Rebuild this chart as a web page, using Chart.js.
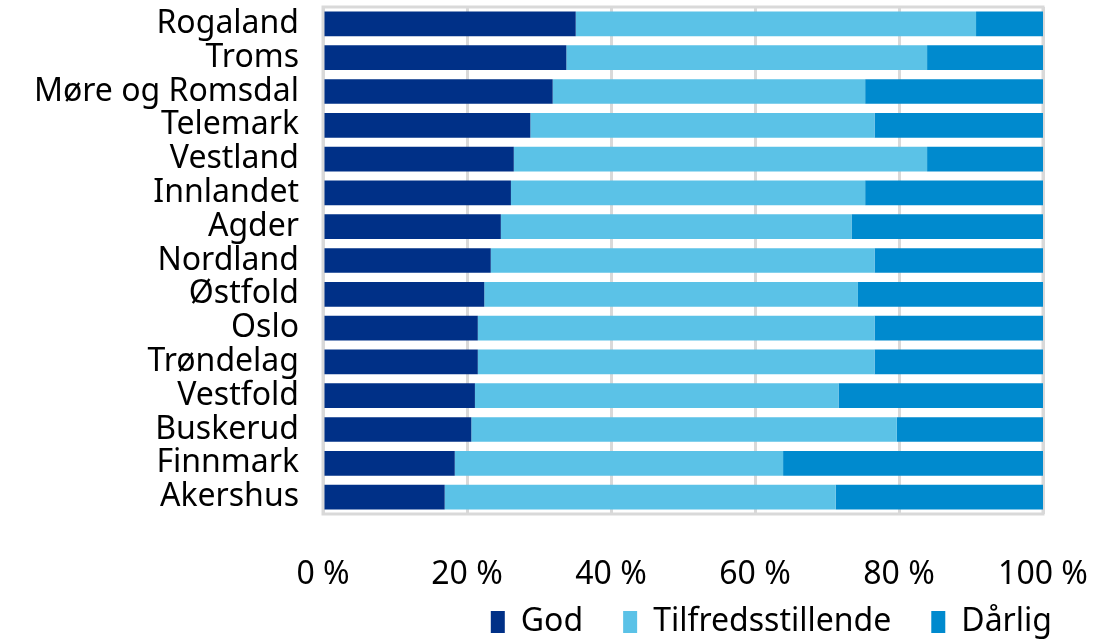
<!DOCTYPE html>
<html>
<head>
<meta charset="utf-8">
<script src="https://cdn.jsdelivr.net/npm/chart.js@4"></script>
<style>
  html, body { margin: 0; padding: 0; background: #fff; }
  #wrap { width: 1094px; height: 640px; }
</style>
</head>
<body>
<div id="wrap"><canvas id="chart"></canvas></div>
<script>
const regions = ['Rogaland', 'Troms', 'Møre og Romsdal', 'Telemark', 'Vestland', 'Innlandet', 'Agder',
  'Nordland', 'Østfold', 'Oslo', 'Trøndelag', 'Vestfold', 'Buskerud', 'Finnmark', 'Akershus'];
const god = [35.1, 33.8, 31.9, 28.8, 26.5, 26.1, 24.7, 23.3, 22.4, 21.5, 21.5, 21.1, 20.6, 18.3, 16.9];
const tilfreds = [55.6, 50.1, 43.4, 47.8, 57.4, 49.2, 48.7, 53.3, 51.9, 55.1, 55.1, 50.5, 59.1, 45.6, 54.3];
const darlig = [9.3, 16.1, 24.7, 23.4, 16.1, 24.7, 26.6, 23.4, 25.7, 23.4, 23.4, 28.4, 20.3, 36.1, 28.8];
const xTicks = [0, 20, 40, 60, 80, 100];

const font = { family: '"Noto Sans", "Open Sans", sans-serif', size: 32 };

// grey frame round the plot area
const frame = {
  id: 'frame',
  beforeDatasetsDraw(chart) {
    const { ctx, chartArea: a } = chart;
    ctx.save();
    ctx.strokeStyle = '#d9d9d9';
    ctx.lineWidth = 3;
    ctx.strokeRect(a.left, a.top, a.right - a.left, a.bottom - a.top);
    ctx.restore();
  }
};

new Chart(document.getElementById('chart'), {
  type: 'bar',
  data: {
    labels: regions,
    datasets: [
      { label: 'God', data: god, backgroundColor: '#003087' },
      { label: 'Tilfredsstillende', data: tilfreds, backgroundColor: '#5bc2e7' },
      { label: 'Dårlig', data: darlig, backgroundColor: '#008ace' },
    ]
  },
  options: {
    indexAxis: 'y',
    responsive: true,
    maintainAspectRatio: false,
    animation: false,
    layout: { padding: { top: 7, right: 2, left: 0, bottom: -8 } },
    datasets: { bar: { barPercentage: 0.73, categoryPercentage: 1 } },
    scales: {
      x: {
        stacked: true,
        min: 0, max: 100,
        afterBuildTicks: (s) => { s.ticks = xTicks.map(v => ({ value: v })); },
        grid: { color: '#d9d9d9', lineWidth: 3, drawTicks: false },
        border: { display: false },
        ticks: { font, color: '#000', padding: 42, maxRotation: 0, callback: v => v + ' %' },
        // short axis box: labels run into the legend's empty top padding, so no clipping
        afterFit: (s) => {
          s.height = 52; s.paddingLeft = 0; s.paddingRight = 51;
          s._computeLabelArea = () => undefined;
        },
      },
      y: {
        stacked: true,
        grid: { display: false, drawTicks: false },
        border: { display: false },
        ticks: { font, color: '#000', padding: 24, autoSkip: false },
        afterFit: (s) => { s.width = 323; s.paddingTop = 0; s.paddingBottom = 0; },
      }
    },
    plugins: {
      legend: {
        position: 'bottom',
        align: 'end',
        labels: { font, color: '#000', boxWidth: 14, boxHeight: 22, padding: 40 },
      },
      tooltip: { enabled: false },
    }
  },
  plugins: [frame]
});
</script>
</body>
</html>
